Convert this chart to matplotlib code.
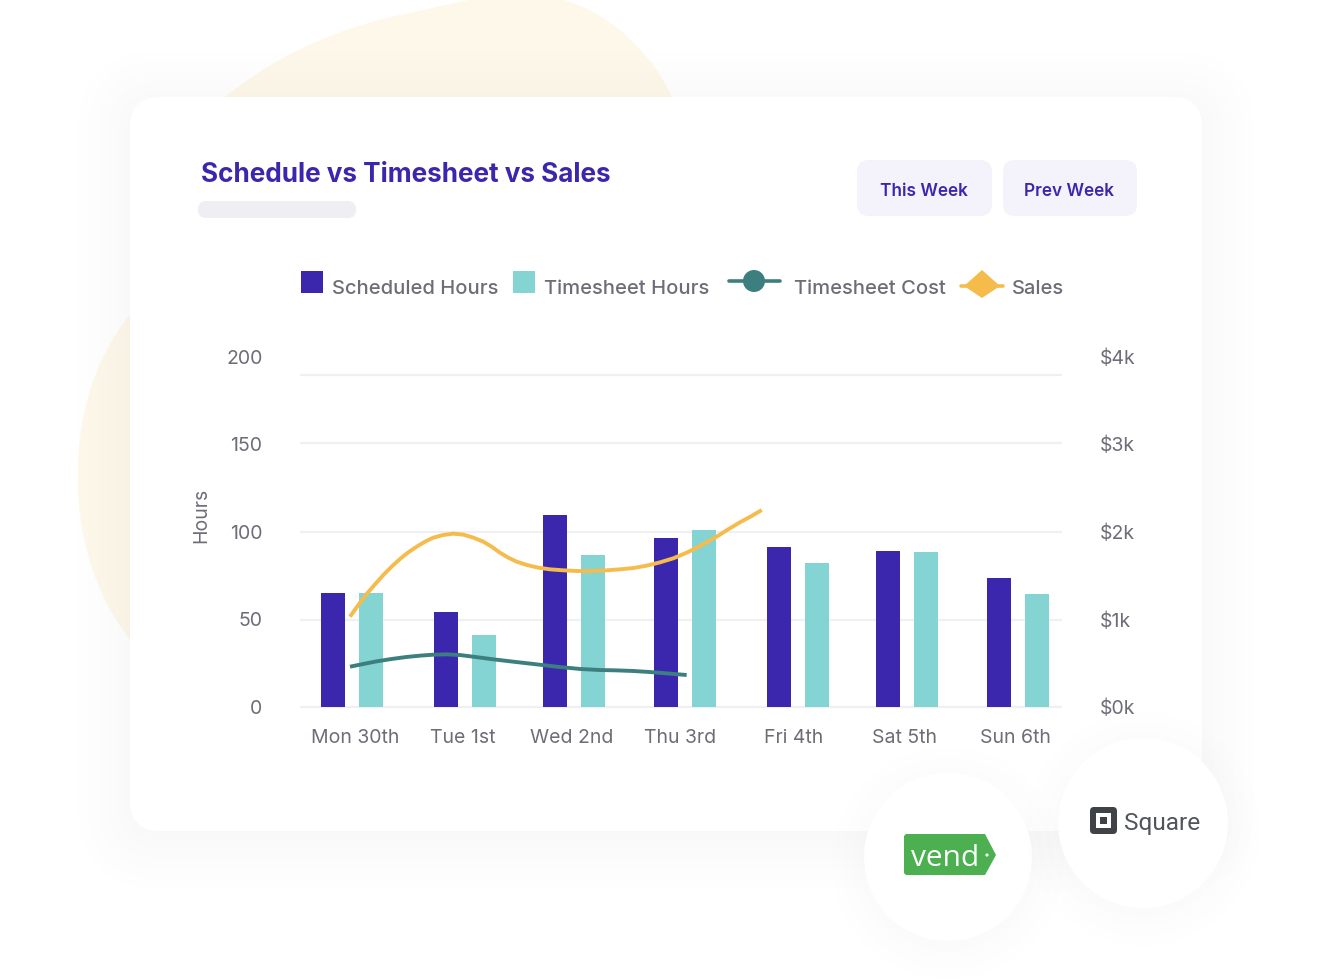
#!/usr/bin/env python3

import matplotlib
matplotlib.use('Agg')
import matplotlib.pyplot as plt
from matplotlib.patches import FancyBboxPatch, Circle, PathPatch, Rectangle, Polygon
from matplotlib.path import Path
import numpy as np

plt.rcParams['font.family'] = ['Inter', 'DejaVu Sans']

# Chart data
days = ['Mon 30th', 'Tue 1st', 'Wed 2nd', 'Thu 3rd', 'Fri 4th', 'Sat 5th', 'Sun 6th']
scheduled_hours = [65, 54, 109.5, 96.5, 91.5, 89, 73.5]
timesheet_hours = [65, 41, 86.5, 101, 82, 88.5, 64.5]

# Line samples, x is in day units
sales_x = [-0.018, 0.057, 0.132, 0.207, 0.282, 0.357, 0.432, 0.507, 0.583, 0.658, 0.733, 0.823, 0.913,
           1.003, 1.093, 1.183, 1.258, 1.333, 1.408, 1.483, 1.574, 1.679, 1.784, 1.904, 2.024, 2.159,
           2.294, 2.414, 2.535, 2.655, 2.775, 2.895, 3.015, 3.135, 3.285, 3.390, 3.495, 3.601, 3.691]
sales_k = [1.031, 1.164, 1.290, 1.400, 1.506, 1.602, 1.689, 1.765, 1.830, 1.887, 1.933, 1.963, 1.978,
           1.967, 1.933, 1.887, 1.830, 1.761, 1.704, 1.659, 1.621, 1.590, 1.571, 1.560, 1.552, 1.552,
           1.560, 1.571, 1.586, 1.613, 1.651, 1.697, 1.761, 1.837, 1.944, 2.028, 2.108, 2.180, 2.248]
cost_x = [-0.018, 0.102, 0.222, 0.357, 0.492, 0.613, 0.733, 0.853, 0.973, 1.093, 1.273, 1.453, 1.634,
          1.844, 2.054, 2.234, 2.384, 2.535, 2.685, 2.835, 3.015]
cost_k = [0.460, 0.491, 0.521, 0.548, 0.571, 0.586, 0.597, 0.601, 0.593, 0.574, 0.544, 0.517, 0.491,
          0.460, 0.434, 0.422, 0.418, 0.411, 0.399, 0.384, 0.365]

y_ticks = [0, 50, 100, 150, 200]
y_right_labels = ['$0k', '$1k', '$2k', '$3k', '$4k']
grid_values = [0, 49.7, 100, 150.7, 189.6]

W, H = 1344, 980
PURPLE = '#3B27AE'
TEAL_BAR = '#84D4D4'
TEAL_LINE = '#3C7F7E'
YELLOW = '#F5BC4C'
GREY = '#6D6D78'
SHADOW_ALPHA = 0.004  # one 8-bit level per layer, anything lower gets rounded away

fig = plt.figure(figsize=(W / 100, H / 100), dpi=100, facecolor='white')

# Background layer in pixel coordinates
bg = fig.add_axes([0, 0, 1, 1], zorder=0)
bg.set_xlim(0, W)
bg.set_ylim(H, 0)
bg.axis('off')

blob_verts = [(225, 97), (270, 60), (330, 30), (400, 15), (450, 5), (480, -6), (530, -6),
              (600, -2), (650, 50), (672, 97), (700, 300), (600, 600), (130, 640),
              (92, 590), (76, 530), (78, 465), (80, 395), (105, 345), (130, 315),
              (160, 250), (190, 130), (225, 97)]
blob_codes = [Path.MOVETO] + [Path.CURVE4] * (len(blob_verts) - 1)
bg.add_patch(PathPatch(Path(blob_verts, blob_codes), fc='#FDF8E9', ec='none'))


def card_patch(grow):
    return FancyBboxPatch((130 - grow, 103 - grow), 1072 + 2 * grow, 734 + 2 * grow,
                          boxstyle=f'round,pad=0,rounding_size={30 + grow}',
                          fc='black', ec='none', alpha=SHADOW_ALPHA)


# Soft card shadow
for grow in [52, 42, 32, 22, 12, 4]:
    bg.add_patch(card_patch(grow))
bg.add_patch(FancyBboxPatch((130, 97), 1072, 734, boxstyle='round,pad=0,rounding_size=30',
                            fc='white', ec='none'))

# Title, buttons and placeholder
bg.text(201, 175, 'Schedule vs Timesheet vs Sales', fontsize=18.8, fontweight='bold',
        color=PURPLE, va='center', ha='left')
bg.add_patch(FancyBboxPatch((198, 201), 158, 17, boxstyle='round,pad=0,rounding_size=8.5',
                            fc='#EEEEF3', ec='none'))
for left, width, label in [(857, 135, 'This Week'), (1003, 134, 'Prev Week')]:
    bg.add_patch(FancyBboxPatch((left, 160), width, 56, boxstyle='round,pad=0,rounding_size=12',
                                fc='#F4F3FB', ec='none'))
    bg.text(left + width / 2 - 0.5, 191, label, fontsize=12.4, fontweight='semibold', color=PURPLE,
            ha='center', va='center')

# Legend drawn by hand
bg.add_patch(Rectangle((301, 271), 22, 22, fc=PURPLE, ec='none'))
bg.add_patch(Rectangle((513, 271), 22, 22, fc=TEAL_BAR, ec='none'))
bg.plot([729, 780], [281, 281], color=TEAL_LINE, lw=2.6, solid_capstyle='round')
bg.add_patch(Circle((754, 281), 11, fc=TEAL_LINE, ec='none'))
bg.plot([961, 1003], [286, 286], color=YELLOW, lw=2.6, solid_capstyle='round')
bg.add_patch(Polygon([(982, 270), (1000, 286), (982, 298), (964, 286)], fc=YELLOW, ec='none'))
for x, label in [(332, 'Scheduled Hours'), (544, 'Timesheet Hours'), (794, 'Timesheet Cost'), (1012, 'Sales')]:
    bg.text(x, 289, label, fontsize=14.5, fontweight='medium', color=GREY, va='center', ha='left')

# Chart axes, 0 sits at y=707 and 200 at y=356.5
ax = fig.add_axes([300 / W, 1 - 707 / H, 762 / W, 350.5 / H], zorder=1)
ax.patch.set_alpha(0)
ax.set_xlim((300 - 352) / 111, (1062 - 352) / 111)
ax.set_ylim(0, 200)
for spine in ax.spines.values():
    spine.set_visible(False)

# Groups are not spaced quite evenly in the original
x = np.array([0, 1.02, 2, 3, 4.02, 5, 6])
tick_x = [0.027, 1, 1.98, 2.96, 3.98, 4.98, 5.98]
offset = 19 / 111
bar_w = 24.5 / 111
for value in grid_values:
    ax.axhline(value, color='#EEF0F2', lw=1.6, zorder=1, solid_capstyle='butt', clip_on=False)
ax.bar(x - offset, scheduled_hours, bar_w, color=PURPLE, zorder=2)
ax.bar(x + offset, timesheet_hours, bar_w, color=TEAL_BAR, zorder=2)

ax.set_xticks(tick_x)
ax.set_xticklabels(days, fontsize=14, color=GREY)
ax.set_yticks(y_ticks)
ax.set_yticklabels([str(t) for t in y_ticks], fontsize=14, color=GREY)
ax.tick_params(axis='x', length=0, pad=15.5)
ax.tick_params(axis='y', length=0, pad=27)
ax.set_ylabel('Hours', fontsize=14, color=GREY)
ax.yaxis.set_label_coords((210 - 300) / 762, (707 - 515) / 350.5)

# Right axis in thousands of dollars
ax2 = ax.twinx()
ax2.set_ylim(0, 4)
ax2.set_yticks(range(5))
ax2.set_yticklabels(y_right_labels, fontsize=14, color=GREY)
ax2.tick_params(axis='y', length=0, pad=27)
for spine in ax2.spines.values():
    spine.set_visible(False)
ax2.plot(sales_x, sales_k, color=YELLOW, lw=2.8, zorder=3, solid_joinstyle='round', solid_capstyle='butt')
ax2.plot(cost_x, cost_k, color=TEAL_LINE, lw=2.8, zorder=3, solid_joinstyle='round', solid_capstyle='butt')

# Integration badges on top
top = fig.add_axes([0, 0, 1, 1], zorder=2)
top.set_xlim(0, W)
top.set_ylim(H, 0)
top.axis('off')
top.patch.set_alpha(0)

for cx, cy, r in [(948, 857, 84), (1143, 823, 85)]:
    for grow in [32, 22, 12, 4]:
        top.add_patch(Circle((cx, cy + 6), r + grow, fc='black', ec='none', alpha=SHADOW_ALPHA))
    top.add_patch(Circle((cx, cy), r, fc='white', ec='none'))

# vend tag
top.add_patch(Polygon([(906, 834), (985, 834), (996, 855), (985, 875), (906, 875), (904, 873), (904, 836)],
                      fc='#4CAF50', ec='none'))
top.text(945, 858, 'vend', fontsize=21.5, color='white', ha='center', va='center', family=['Open Sans', 'DejaVu Sans'])
top.add_patch(Circle((987, 855), 1.6, fc='white', ec='none'))

# Square logo
top.add_patch(FancyBboxPatch((1092, 809), 23, 23, boxstyle='round,pad=2,rounding_size=4',
                             fc='#3E4348', ec='none'))
top.add_patch(Rectangle((1096, 813), 15, 15, fc='white', ec='none'))
top.add_patch(Rectangle((1100, 817), 7, 7, fc='#3E4348', ec='none'))
top.text(1124, 823, 'Square', fontsize=17.6, color='#50555B', ha='left', va='center', family=['Roboto', 'DejaVu Sans'])

plt.savefig('out.png', dpi=100)
